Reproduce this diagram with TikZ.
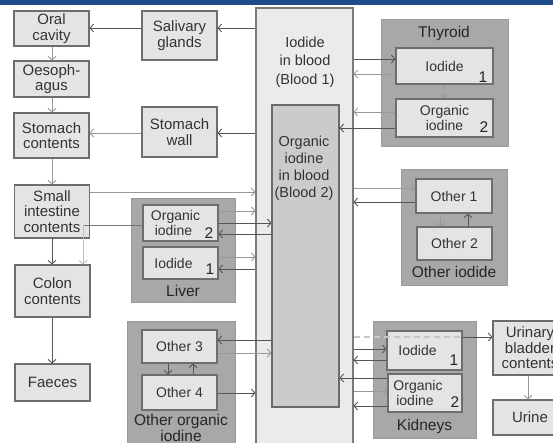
\documentclass[tikz,border=0pt]{standalone}
\usepackage{fontspec}
\setmainfont{Liberation Sans}
\usetikzlibrary{arrows.meta}
\definecolor{bar}{HTML}{1E4C8A}
\definecolor{grpfill}{HTML}{A8A8A8}
\definecolor{grpline}{HTML}{9A9A9A}
\definecolor{boxfill}{HTML}{E4E4E4}
\definecolor{boxline}{HTML}{6E6E6E}
\definecolor{b1fill}{HTML}{EBEBEB}
\definecolor{b1line}{HTML}{7A7A7A}
\definecolor{b2fill}{HTML}{CBCBCB}
\definecolor{b2line}{HTML}{6A6A6A}
\definecolor{txt}{HTML}{333333}
\definecolor{arrdark}{HTML}{555555}
\definecolor{arrlight}{HTML}{999999}
\begin{document}
\begin{tikzpicture}[x=1pt,y=-1pt,
  box/.style={draw=boxline, fill=boxfill, line width=1.1pt, inner sep=0pt, align=center, text=txt, font=\fontsize{15}{15.5}\selectfont},
  ibox/.style={box, font=\fontsize{14}{15}\selectfont},
  grp/.style={draw=grpline, fill=grpfill, line width=0.8pt, inner sep=0pt},
  glab/.style={text=black!85, font=\fontsize{15.5}{15}\selectfont, inner sep=0pt, align=center},
  num/.style={text=black!85, font=\fontsize{15.5}{15}\selectfont, inner sep=0pt},
  arr/.style={draw=arrdark, line width=0.9pt, -{Straight Barb[length=3.5pt,width=8pt]}},
  arrl/.style={arr, draw=arrlight},
  ln/.style={draw=arrdark, line width=0.9pt}
]
\clip (0,0) rectangle (553,443);
\fill[white] (0,0) rectangle (553,443);
\fill[bar] (0,0) rectangle (553,5);

% groups
\node[grp, minimum width=127pt, minimum height=127pt] (thyroid) at (444.5,82.5) {};
\node[grp, minimum width=106pt, minimum height=116pt] (otheriod) at (454,227) {};
\node[grp, minimum width=104pt, minimum height=104pt] (liver) at (183,250) {};
\node[grp, minimum width=108pt, minimum height=130pt] (otherorg) at (181,386) {};
\node[grp, minimum width=103pt, minimum height=117pt] (kidneys) at (424.5,379.5) {};

% blood
\node[draw=b1line, fill=b1fill, line width=1.1pt, minimum width=97pt, minimum height=440pt, inner sep=0pt] (blood1) at (304.5,228) {};
\node[draw=b2line, fill=b2fill, line width=1.1pt, minimum width=67pt, minimum height=302pt, inner sep=0pt] (blood2) at (305.5,256) {};
\node[glab, text=txt, font=\fontsize{14.5}{18.5}\selectfont] (b1text) at (305,62) {Iodide\\in blood\\(Blood 1)};
\node[glab, text=txt, font=\fontsize{14.5}{17}\selectfont] (b2text) at (304,168) {Organic\\iodine\\in blood\\(Blood 2)};

% left column
\node[box, minimum width=75pt, minimum height=35pt] (oral) at (51.5,28.5) {Oral\\cavity};
\node[box, minimum width=75pt, minimum height=36pt] (oes) at (51.5,79) {Oesoph-\\agus};
\node[box, minimum width=75pt, minimum height=45pt] (stomc) at (51.5,135.5) {Stomach\\contents};
\node[box, minimum width=75pt, minimum height=53pt] (small) at (52,211.5) {Small\\intestine\\contents};
\node[box, minimum width=75pt, minimum height=52pt] (colon) at (52.5,291) {Colon\\contents};
\node[box, minimum width=75pt, minimum height=37pt] (faeces) at (52.5,382.5) {Faeces};
\node[box, minimum width=75pt, minimum height=49pt] (saliv) at (179.5,35.5) {Salivary\\glands};
\node[box, minimum width=75pt, minimum height=50pt] (stomw) at (179.5,132) {Stomach\\wall};

% inner boxes
\node[ibox, minimum width=75pt, minimum height=36pt] (liverorg) at (180.5,223) {Organic\kern10pt\\iodine\kern14pt};
\node[ibox, minimum width=75pt, minimum height=32pt] (liveriod) at (180.5,263) {Iodide\kern14pt};
\node[ibox, minimum width=75pt, minimum height=33pt] (other3) at (179.5,346.5) {Other 3};
\node[ibox, minimum width=75pt, minimum height=35pt] (other4) at (179.5,392.5) {Other 4};
\node[ibox, minimum width=97pt, minimum height=36pt] (thyiod) at (444.5,66) {Iodide};
\node[ibox, minimum width=97pt, minimum height=38pt] (thyorg) at (444.5,118) {Organic\\iodine};
\node[ibox, minimum width=76pt, minimum height=34pt] (other1) at (454,196) {Other 1};
\node[ibox, minimum width=75pt, minimum height=33pt] (other2) at (454.5,243.5) {Other 2};
\node[ibox, minimum width=75pt, minimum height=39pt] (kidiod) at (424.5,350.5) {Iodide\kern14pt};
\node[ibox, minimum width=74pt, minimum height=38pt] (kidorg) at (425,393) {Organic\kern14pt\\iodine\kern20pt};
\node[box, minimum width=74pt, minimum height=54pt] (urin) at (530,348) {Urinary\\bladder\\contents};
\node[box, minimum width=74pt, minimum height=35pt] (urine) at (530,417.5) {Urine};

% numbers
\node[num] (n1t) at (483,77) {1};
\node[num] (n2t) at (484,127) {2};
\node[num] (n2l) at (209,233) {2};
\node[num] (n1l) at (210,269) {1};
\node[num] (n1k) at (454,360) {1};
\node[num] (n2k) at (455,402) {2};

% group labels
\node[glab] (thyl) at (444,33) {Thyroid};
\node[glab] (oil) at (454,272) {Other iodide};
\node[glab] (livl) at (183,291) {Liver};
\node[glab, font=\fontsize{15.5}{14}\selectfont] (ool) at (181,428) {Other organic\\iodine};
\node[glab] (kidl) at (424.5,426) {Kidneys};

% light dashed line through kidney iodide
\draw[draw=black!22, line width=1.2pt, dash pattern=on 6pt off 4pt] (blood1.east |- 0,337) -- (kidiod.east |- 0,337);

% digestive tract
\draw[arr] (blood1.west |- 0,28) -- (saliv.east |- 0,28);
\draw[arr] (saliv.west |- 0,28) -- (oral.east |- 0,28);
\draw[arrl] (oral.south -| 52,0) -- (oes.north -| 52,0);
\draw[arrl] (oes.south -| 52,0) -- (stomc.north -| 52,0);
\draw[arr] (blood1.west |- 0,133) -- (stomw.east |- 0,133);
\draw[arrl] (stomw.west |- 0,133) -- (stomc.east |- 0,133);
\draw[arrl] (stomc.south -| 52,0) -- (small.north -| 52,0);
\draw[arrl] (small.east |- 0,192) -- (blood1.west |- 0,192);
\draw[arr] (small.south -| 52,0) -- (colon.north -| 52,0);
\draw[ln, draw=arrdark!80] (liverorg.west |- 0,225) -- (83,225);
\draw[arrl, draw=black!25] (83,225) -- (colon.north -| 83,0);
\draw[arr] (colon.south -| 52,0) -- (faeces.north -| 52,0);

% liver
\draw[arrl] (liverorg.east |- 0,211) -- (blood1.west |- 0,211);
\draw[arr] (liverorg.east |- 0,223) -- (blood2.west |- 0,223);
\draw[arr] (blood2.west |- 0,234) -- (liverorg.east |- 0,234);
\draw[arrl] (liveriod.east |- 0,257) -- (blood1.west |- 0,257);
\draw[arr] (blood1.west |- 0,269) -- (liveriod.east |- 0,269);

% other organic iodine
\draw[arr] (blood2.west |- 0,340) -- (other3.east |- 0,340);
\draw[arrl] (other3.east |- 0,353) -- (blood2.west |- 0,353);
\draw[arr] (other4.east |- 0,393) -- (blood1.west |- 0,393);
\draw[arr] (other3.south -| 168,0) -- (other4.north -| 168,0);
\draw[arr] (other4.north -| 193,0) -- (other3.south -| 193,0);

% thyroid
\draw[arr] (blood1.east |- 0,59) -- (thyiod.west |- 0,59);
\draw[arrl] (thyiod.west |- 0,74) -- (blood1.east |- 0,74);
\draw[arrl] (thyiod.south -| 443,0) -- (thyorg.north -| 443,0);
\draw[arrl] (thyorg.west |- 0,112) -- (blood1.east |- 0,112);
\draw[arr] (thyorg.west |- 0,128) -- (blood2.east |- 0,128);

% other iodide
\draw[arrl] (blood1.east |- 0,188) -- (other1.west |- 0,188);
\draw[arr] (other1.west |- 0,202) -- (blood1.east |- 0,202);
\draw[arrl] (other1.south -| 440,0) -- (other2.north -| 440,0);
\draw[arr] (other2.north -| 468,0) -- (other1.south -| 468,0);

% kidneys
\draw[arr] (blood1.east |- 0,349) -- (kidiod.west |- 0,349);
\draw[arr] (kidiod.west |- 0,360) -- (blood1.east |- 0,360);
\draw[arr] (kidorg.west |- 0,378) -- (blood2.east |- 0,378);
\draw[arrl] (blood1.east |- 0,391) -- (kidorg.west |- 0,391);
\draw[arr] (kidorg.west |- 0,406) -- (blood1.east |- 0,406);
\draw[arr] (kidiod.east |- 0,337) -- (urin.west |- 0,337);
\draw[arrl] (urin.south -| 528,0) -- (urine.north -| 528,0);
\end{tikzpicture}
\end{document}
